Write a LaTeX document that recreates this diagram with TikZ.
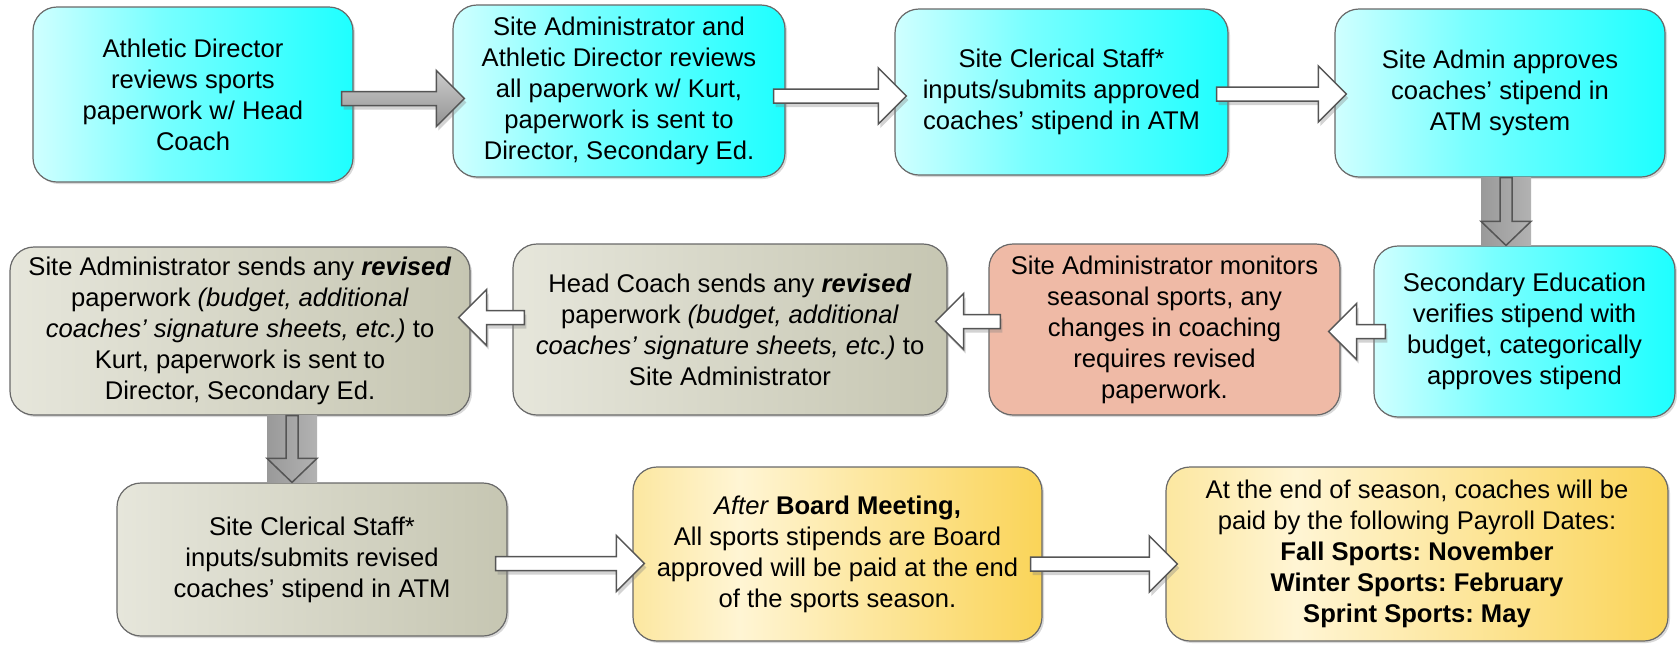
\documentclass[tikz,border=0pt]{standalone}
\usepackage{fontspec}
\setmainfont{Liberation Sans}
\usepackage{xcolor}
\usepackage{tikz}
\usetikzlibrary{calc,shadows}
\frenchspacing

\definecolor{cyanpale}{RGB}{208,255,255}
\definecolor{cyanmid}{RGB}{120,255,255}
\definecolor{cyandeep}{RGB}{30,255,255}
\definecolor{salmon}{RGB}{239,186,166}
\definecolor{khakilight}{RGB}{230,230,219}
\definecolor{khakidark}{RGB}{198,198,178}
\definecolor{goldpale}{RGB}{252,231,160}
\definecolor{goldlight}{RGB}{255,245,212}
\definecolor{golddeep}{RGB}{250,212,88}
\definecolor{edge}{RGB}{105,105,105}
\definecolor{arrowline}{RGB}{85,85,85}

\pgfdeclarehorizontalshading{cyanfade}{100bp}{color(0bp)=(cyanpale); color(25bp)=(cyanpale);
  color(45bp)=(cyanmid); color(75bp)=(cyandeep); color(100bp)=(cyandeep)}
\pgfdeclarehorizontalshading{goldfade}{100bp}{color(0bp)=(goldpale); color(25bp)=(goldpale);
  color(38bp)=(goldlight); color(75bp)=(golddeep); color(100bp)=(golddeep)}

\tikzset{
  stage/.style={draw=edge, line width=0.6pt, rounded corners=12pt, align=center, inner sep=2pt,
    drop shadow={shadow xshift=1pt, shadow yshift=-1pt, opacity=0.3}},
  sitebox/.style={stage, shade, shading=cyanfade},
  revbox/.style={stage, left color=khakilight, right color=khakidark},
  alertbox/.style={stage, fill=salmon},
  paybox/.style={stage, shade, shading=goldfade},
  % block arrows between boxes
  flowright/.style={to path={let \p1=(\tikztostart), \p2=(\tikztotarget) in
      (\x1-6pt,\y1+3.5pt) -- (\x2-8pt,\y1+3.5pt) -- (\x2-8pt,\y1+14pt) -- (\x2+6pt,\y1)
      -- (\x2-8pt,\y1-14pt) -- (\x2-8pt,\y1-3.5pt) -- (\x1-6pt,\y1-3.5pt) -- cycle}},
  flowleft/.style={to path={let \p1=(\tikztostart), \p2=(\tikztotarget) in
      (\x1+6pt,\y1+3.5pt) -- (\x2+8pt,\y1+3.5pt) -- (\x2+8pt,\y1+14pt) -- (\x2-6pt,\y1)
      -- (\x2+8pt,\y1-14pt) -- (\x2+8pt,\y1-3.5pt) -- (\x1+6pt,\y1-3.5pt) -- cycle}},
  flowdown/.style={to path={let \p1=(\tikztostart), \p2=(\tikztotarget) in
      (\x1-3pt,\y1) -- (\x1-3pt,\y2+12pt) -- (\x1-12.5pt,\y2+12pt) -- (\x1,\y2)
      -- (\x1+12.5pt,\y2+12pt) -- (\x1+3pt,\y2+12pt) -- (\x1+3pt,\y1) -- cycle}},
  flowdownbg/.style={to path={let \p1=(\tikztostart), \p2=(\tikztotarget) in
      (\x1-12.5pt,\y1) rectangle (\x1+12.5pt,\y2)}},
  heavyflow/.style={draw=arrowline, line width=0.75pt, top color=gray!40!white, bottom color=gray!85!white,
    drop shadow={shadow xshift=1pt, shadow yshift=-2pt, opacity=0.35}},
  lightflow/.style={draw=arrowline, line width=0.75pt, fill=white,
    drop shadow={shadow xshift=1pt, shadow yshift=-2pt, opacity=0.35}},
  downfill/.style={left color=gray!80!white, right color=gray!60!white},
}

\begin{document}
\begin{tikzpicture}[x=0.5pt, y=-0.5pt, every node/.style={font=\fontsize{12.8}{15.5}\selectfont}]
  \useasboundingbox (0,0) rectangle (1677,644);

  % top row
  \node[sitebox, minimum width=160pt, minimum height=87.5pt] (athdir) at (193,94.5)
    {Athletic Director\\ reviews sports\\ paperwork w/ Head\\ Coach};
  \node[sitebox, minimum width=166pt, minimum height=86pt] (review) at (619,91)
    {Site Administrator and\\ Athletic Director reviews\\ all paperwork w/ Kurt,\\ paperwork is sent to\\ Director, Secondary Ed.};
  \node[sitebox, minimum width=166.5pt, minimum height=83pt] (clerk) at (1061.5,92)
    {Site Clerical Staff*\\ inputs/submits approved\\ coaches' stipend in ATM};
  \node[sitebox, minimum width=165pt, minimum height=84pt] (approve) at (1500,93)
    {Site Admin approves\\ coaches' stipend in\\ ATM system};

  % middle row
  \node[sitebox, minimum width=150.5pt, minimum height=85.5pt] (secondary) at (1524.5,331.5)
    {Secondary Education\\ verifies stipend with\\ budget, categorically\\ approves stipend};
  \node[alertbox, minimum width=175.5pt, minimum height=85.5pt] (monitor) at (1164.5,329.5)
    {Site Administrator monitors\\ seasonal sports, any\\ changes in coaching\\ requires revised\\ paperwork.};
  \node[revbox, minimum width=217pt, minimum height=85.5pt] (coachrev) at (730,329.5)
    {Head Coach sends any \textbf{\textit{revised}}\\ paperwork \textit{(budget, additional}\\
     \textit{coaches' signature sheets, etc.)} to\\ Site Administrator};
  \node[revbox, minimum width=230pt, minimum height=84pt] (siterev) at (240,331)
    {Site Administrator sends any \textbf{\textit{revised}}\\ paperwork \textit{(budget, additional}\\
     \textit{coaches' signature sheets, etc.)} to\\ Kurt, paperwork is sent to\\ Director, Secondary Ed.};

  % bottom row
  \node[revbox, minimum width=195pt, minimum height=76.5pt] (clerkrev) at (312,559.5)
    {Site Clerical Staff*\\ inputs/submits revised\\ coaches' stipend in ATM};
  \node[paybox, minimum width=204.5pt, minimum height=87pt] (board) at (837.5,554)
    {\textit{After} \textbf{Board Meeting,}\\ All sports stipends are Board\\ approved will be paid at the end\\ of the sports season.};
  \node[paybox, minimum width=251pt, minimum height=87pt] (payroll) at (1417,554)
    {At the end of season, coaches will be\\ paid by the following Payroll Dates:\\
     \textbf{Fall Sports: November}\\ \textbf{Winter Sports: February}\\ \textbf{Sprint Sports: May}};

  % arrows
  \draw[heavyflow, flowright] ([yshift=-2pt]athdir.east) to (review.west);
  \draw[lightflow, flowright] ([yshift=-2.5pt]review.east) to (clerk.west);
  \draw[lightflow, flowright] ([yshift=-1pt]clerk.east) to (approve.west);
  \shade[downfill, flowdownbg] ([xshift=3pt]approve.south) to (secondary.north);
  \draw[draw=arrowline, line width=0.75pt, flowdown] ([xshift=3pt]approve.south) to (secondary.north);
  \draw[lightflow, flowleft] (secondary.west) to (monitor.east);
  \draw[lightflow, flowleft] ([yshift=4pt]monitor.west) to (coachrev.east);
  \draw[lightflow, flowleft] ([yshift=6pt]coachrev.west) to (siterev.east);
  \shade[downfill, flowdownbg] ([xshift=26pt]siterev.south) to (clerkrev.north);
  \draw[draw=arrowline, line width=0.75pt, flowdown] ([xshift=26pt]siterev.south) to (clerkrev.north);
  \draw[lightflow, flowright] ([yshift=-2pt]clerkrev.east) to (board.west);
  \draw[lightflow, flowright] ([yshift=-5pt]board.east) to (payroll.west);
\end{tikzpicture}
\end{document}
